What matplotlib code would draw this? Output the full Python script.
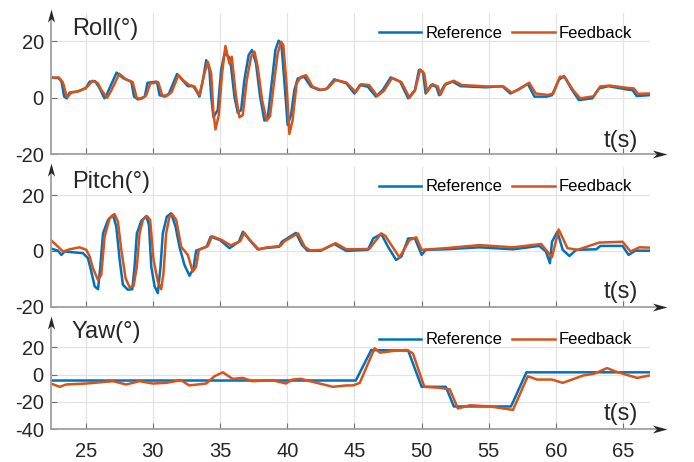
import matplotlib.pyplot as plt
import numpy as np

plt.rcParams['font.family'] = ['Liberation Sans', 'DejaVu Sans']
plt.rcParams['axes.unicode_minus'] = False

# Roll (deg)
roll_ref_t = [22.4, 23.0, 23.2, 23.4, 23.6, 23.8, 24.3, 25.0, 25.3, 25.7, 26.0, 26.4, 26.6, 27.3, 27.8,
              28.4, 28.6, 28.9, 29.4, 29.6, 30.3, 30.5, 30.9, 31.2, 31.8, 32.2, 32.6, 33.0, 33.2, 33.47,
              33.72, 33.97, 34.21, 34.34, 34.51, 34.83, 35.08, 35.33, 35.65, 35.82, 36.07, 36.32, 36.57,
              36.81, 37.13, 37.38, 37.68, 37.98, 38.3, 38.55, 38.87, 39.12, 39.36, 39.56, 39.78, 40.03,
              40.28, 40.53, 40.78, 41.27, 41.77, 42.4, 42.9, 43.5, 44.4, 45.0, 45.4, 46.0, 46.6, 47.1, 47.7,
              48.4, 49.0, 49.5, 49.8, 50.1, 50.3, 50.7, 51.1, 51.3, 51.7, 52.3, 52.9, 54.8, 56.0, 56.6,
              57.1, 57.9, 58.4, 59.3, 59.7, 60.2, 60.6, 61.2, 61.7, 62.7, 63.2, 63.9, 65.2, 65.7, 66.0, 66.9]
roll_ref_v = [7.2, 6.9, 5.7, 0.4, -0.2, 1.8, 2.1, 3.3, 5.7, 5.9, 3.7, -0.2, 1.5, 8.9, 6.9,
              5.7, 0.4, -0.6, 0.4, 5.3, 5.7, 0.9, 0.4, 1.5, 8.4, 6.3, 4.1, 4.1, 2.7, 0.4,
              6.2, 13.3, 9.8, 0.4, -6.9, -4.3, 9.8, 15.7, 14.5, 11.0, 0.4, -5.3, -4.3,
              6.3, 15.1, 16.9, 12.1, 0.4, -8.1, -6.9, 6.3, 16.9, 20.2, 19.2, 6.3, -9.6,
              -6.1, 2.7, 6.8, 7.4, 3.9, 2.7, 3.0, 6.5, 5.1, 1.5, 4.5, 3.9, 0.4, 2.7, 7.2,
              5.7, -0.2, 2.7, 9.8, 9.2, 1.5, 4.5, 3.9, 0.9, 4.5, 5.7, 4.1, 3.7, 4.1, 1.5,
              2.7, 4.9, 0.4, 0.4, 0.9, 6.3, 7.7, 2.7, -0.8, -0.2, 3.3, 4.1, 3.0, 2.7, 0.6, 0.9]
roll_fb_t = [22.4, 23.0, 23.3, 23.6, 24.0, 24.5, 25.1, 25.5, 25.9, 26.2, 26.6, 26.9, 27.5, 28.0, 28.5,
             28.8, 29.1, 29.5, 29.8, 30.4, 30.7, 31.1, 31.4, 31.9, 32.3, 32.7, 33.1, 33.47, 33.84, 34.09,
             34.34, 34.51, 34.66, 34.91, 35.15, 35.4, 35.58, 35.7, 35.87, 36.19, 36.44, 36.69, 36.99,
             37.31, 37.56, 37.8, 38.13, 38.47, 38.72, 39.04, 39.29, 39.54, 39.71, 39.96, 40.16, 40.4,
             40.7, 41.02, 41.4, 41.89, 42.5, 43.0, 43.6, 44.4, 45.1, 45.5, 46.1, 46.7, 47.2,
             47.8, 48.5, 49.1, 49.5, 49.9, 50.2, 50.4, 50.8, 51.2, 51.4, 51.8, 52.4, 53.0, 54.9, 56.1,
             56.7, 57.2, 58.0, 58.5, 59.4, 59.8, 60.3, 60.7, 61.3, 61.8, 62.8, 63.3, 64.0, 65.3, 65.8,
             66.1, 66.9]
roll_fb_v = [7.0, 7.2, 5.5, 0.3, 2.0, 2.3, 3.8, 6.0, 5.2, 2.5, 0.0, 2.5, 8.5, 6.5, 5.5,
             0.0, -0.5, 0.8, 5.0, 5.5, 0.8, 0.8, 2.0, 8.0, 6.0, 4.5, 4.0, 0.9, 8.6, 12.7,
             8.6, -5.5, -11.2, -6.1, 8.6, 18.3, 14.5, 12.1, 14.5, 0.4, -6.9, -6.1, 6.3,
             14.5, 16.3, 11.0, -0.8, -8.1, -6.5, 6.3, 15.7, 19.8, 18.6, 3.9, -12.8, -7.9,
             5.1, 7.4, 8.0, 3.9, 2.8, 3.3, 6.3, 5.4, 2.0, 4.8, 4.5, 0.6, 2.5,
             7.0, 5.5, 0.0, 2.5, 10.0, 8.5, 2.0, 4.8, 4.0, 1.0, 5.0, 6.0, 4.5, 4.0, 4.0,
             1.8, 2.8, 5.3, 1.5, 1.0, 1.5, 7.5, 7.0, 2.5, -0.2, 0.5, 4.0, 4.3, 3.5, 3.3,
             1.4, 1.5]

# Pitch (deg)
pitch_ref_t = [22.33, 22.94, 23.19, 23.44, 24.8, 25.17, 25.42, 25.67, 25.92, 26.09, 26.29, 26.66, 27.03,
               27.28, 27.53, 27.77, 28.14, 28.47, 28.64, 28.81, 29.14, 29.51, 29.71, 29.88, 30.13, 30.37,
               30.57, 30.74, 31.04, 31.36, 31.69, 31.98, 32.35, 32.73, 33.02, 33.22, 34.0,
               34.3, 35.0, 35.7, 36.4, 36.7, 37.2, 37.8, 38.3, 39.4, 39.6, 40.65, 41.1, 41.5, 42.5, 43.5,
               44.4, 46.0, 46.4, 47.0, 47.5, 48.1, 48.5, 49.0, 49.5, 50.0, 50.3, 51.8, 54.3, 56.8, 58.75,
               59.25, 59.55, 59.7, 60.1, 60.5, 61.0, 61.5, 63.0, 63.3, 64.95, 65.4, 65.9, 66.9]
pitch_ref_v = [1.0, 0.1, -1.4, -0.2, -0.8, -2.6, -7.4, -12.7, -13.7, -5.6, 6.3, 11.1, 12.9,
               8.7, -3.2, -12.1, -13.9, -13.7, -5.6, 6.3, 10.8, 12.5, 9.3, -5.6, -12.7, -15.1,
               -5.6, 6.3, 12.3, 13.5, 8.7, 1.5, -5.0, -8.9, -6.2, 0.1, 1.5,
               5.1, 3.9, 1.0, 3.3, 6.9, 3.9, 0.6, 1.0, 1.5, 3.3, 6.5, 2.1, 0.1, 0.1, 2.5,
               0.0, 0.4, 4.5, 6.1, 1.5, -3.2, -2.0, 4.5, 4.5, -1.4, 0.4, 0.6, 1.3, 0.6, 1.8,
               -0.2, -4.4, 3.3, 6.9, 0.4, -1.8, 0.4, 0.6, 1.8, 1.8, -1.4, 0.1, 0.1]
pitch_fb_t = [22.33, 22.82, 23.32, 23.81, 24.55, 25.05, 25.3, 25.54, 25.92, 26.16, 26.41, 26.78, 27.15,
              27.4, 27.65, 27.97, 28.27, 28.57, 28.81, 29.01, 29.26, 29.56, 29.8, 30.05, 30.37, 30.62,
              30.79, 30.99, 31.24, 31.44, 31.74, 32.11, 32.6, 32.97, 33.22, 33.42, 34.1,
              34.4, 35.1, 35.8, 36.5, 36.8, 37.3, 37.9, 38.4, 39.5, 39.8, 40.8, 41.3, 41.7, 42.6, 43.6,
              44.4, 46.1, 47.0, 47.3, 48.35, 49.1, 49.6, 50.0, 51.8, 54.3, 56.8, 58.9, 59.7, 60.2,
              60.85, 61.6, 63.2, 64.95, 65.55, 66.2, 66.9]
pitch_fb_v = [4.2, 2.1, -0.2, 0.6, 1.3, 0.4, -2.0, -6.2, -10.4, -8.6, 5.1, 11.7, 13.2,
              10.5, 0.4, -9.8, -13.0, -12.5, -5.6, 6.3, 11.1, 12.5, 11.1, -3.2, -11.0, -13.7,
              -8.0, 6.3, 12.3, 13.2, 11.1, 1.5, -1.4, -7.4, -5.6, 0.4, 1.8,
              5.3, 4.0, 2.0, 3.5, 6.5, 3.5, 0.5, 1.2, 1.8, 3.5, 6.3, 1.5, 0.2, 0.4, 2.8,
              0.6, 0.7, 6.3, 5.4, -2.3, 3.9, 4.9, 0.4, 1.0, 2.1, 1.3, 2.5, -2.3, 7.7,
              1.0, 0.4, 3.0, 3.3, -0.2, 1.3, 1.2]

# Yaw (deg)
yaw_ref_t = [22.4, 45.1, 46.25, 49.0, 50.0, 51.8, 52.4, 56.65, 57.8, 66.9]
yaw_ref_v = [-4.3, -4.3, 18.0, 17.6, -8.9, -8.9, -23.3, -23.3, 1.7, 1.7]
yaw_fb_t = [22.4, 23.07, 23.56, 25.05, 27.03, 28.02, 29.0, 30.0, 31.0, 32.1, 32.7, 33.97, 34.58, 35.2,
            35.94, 36.7, 37.4, 38.9, 39.9, 40.4, 41.0, 42.4, 43.4, 44.4, 44.9, 45.4, 46.5, 46.9, 48.1,
            48.9, 49.35, 50.2, 51.3, 52.1, 52.7, 53.6, 55.1, 56.1, 56.8, 57.9, 58.6, 59.7, 60.5, 61.2,
            62.0, 62.85, 63.8, 64.4, 65.2, 66.05, 66.9]
yaw_fb_v = [-6.5, -8.9, -7.2, -6.5, -4.8, -7.2, -4.8, -6.5, -6.0, -4.1, -7.9, -6.5, -1.2, 1.7,
            -3.1, -2.4, -4.8, -4.1, -6.5, -3.6, -3.1, -6.5, -8.9, -7.9, -7.9, -6.0, 19.3, 16.1, 17.6,
            18.0, 15.6, -8.9, -9.6, -10.8, -24.8, -22.4, -23.3, -24.8, -25.8, -1.2, -3.6, -3.6, -6.0, -3.6,
            -0.7, 0.7, 4.8, 2.4, 0.0, -2.4, -0.7]

panels = [
    ('Roll(°)', roll_ref_t, roll_ref_v, roll_fb_t, roll_fb_v, (-20, 30), [-20, 0, 20]),
    ('Pitch(°)', pitch_ref_t, pitch_ref_v, pitch_fb_t, pitch_fb_v, (-20, 30), [-20, 0, 20]),
    ('Yaw(°)', yaw_ref_t, yaw_ref_v, yaw_fb_t, yaw_fb_v, (-40, 40), [-40, -20, 0, 20]),
]
positions = [[0.0731, 0.666, 0.8636, 0.306],
             [0.0731, 0.336, 0.8636, 0.302],
             [0.0731, 0.0708, 0.8636, 0.2366]]
title_y = [0.844, 0.848, 0.833]
legend_y = [0.856, 0.859, 0.817]
tlabel_y = [0.054, 0.06, 0.085]

blue = '#0072BD'
orange = '#D95319'
spine_gray = '#a0a0a0'
dark = '#262626'

# notched arrow heads
arrow_right = [(0, 0), (-1, 0.27), (-0.72, 0), (-1, -0.27), (0, 0)]
arrow_up = [(0, 0), (0.27, -1), (0, -0.72), (-0.27, -1), (0, 0)]

fig = plt.figure(figsize=(6.94, 4.62), dpi=100)

for i, (name, rt, rv, ft, fv, ylim, yticks) in enumerate(panels):
    ax = fig.add_axes(positions[i])
    ax.plot(rt, rv, color=blue, lw=1.8, label='Reference')
    ax.plot(ft, fv, color=orange, lw=1.8, label='Feedback')
    ax.set_xlim(22.4, 67)
    ax.set_ylim(*ylim)
    ax.set_xticks([25, 30, 35, 40, 45, 50, 55, 60, 65])
    ax.set_yticks(yticks)
    ax.grid(True, color='#e3e3e3', linewidth=0.9)
    ax.set_axisbelow(True)
    for s in ax.spines.values():
        s.set_visible(False)
    ax.tick_params(direction='in', length=4, width=0.8, color='#707070',
                   labelsize=14.5, labelcolor=dark)
    ax.tick_params(axis='x', pad=9)
    ax.tick_params(axis='y', pad=5)
    if i < 2:
        ax.tick_params(axis='x', labelbottom=False)

    h_px = positions[i][3] * 462
    w_px = positions[i][2] * 694
    # axis lines with arrows
    ax.plot([0, 1 + 9 / w_px], [0, 0], transform=ax.transAxes, clip_on=False,
            color=spine_gray, lw=1.3, zorder=5)
    ax.plot([0, 0], [0, 1 - 4 / h_px], transform=ax.transAxes, clip_on=False,
            color=spine_gray, lw=1.3, zorder=5)
    ax.plot([1 + 17 / w_px], [0], transform=ax.transAxes, clip_on=False,
            marker=arrow_right, markersize=21, color=dark, markeredgewidth=0, zorder=6)
    ax.plot([0], [1 + 4 / h_px], transform=ax.transAxes, clip_on=False,
            marker=arrow_up, markersize=19, color=dark, markeredgewidth=0, zorder=6)

    ax.text(0.035, title_y[i], name, transform=ax.transAxes, fontsize=17,
            color=dark, ha='left', va='baseline')
    ax.text(0.98, tlabel_y[i], 't(s)', transform=ax.transAxes, fontsize=17,
            color=dark, ha='right', va='baseline')
    ax.legend(loc='center', bbox_to_anchor=(0.759, legend_y[i]), ncol=2, frameon=False,
              fontsize=12, handlelength=2.55, handletextpad=0.25, columnspacing=0.6,
              borderpad=0, borderaxespad=0)

plt.savefig('out.png', dpi=100)
